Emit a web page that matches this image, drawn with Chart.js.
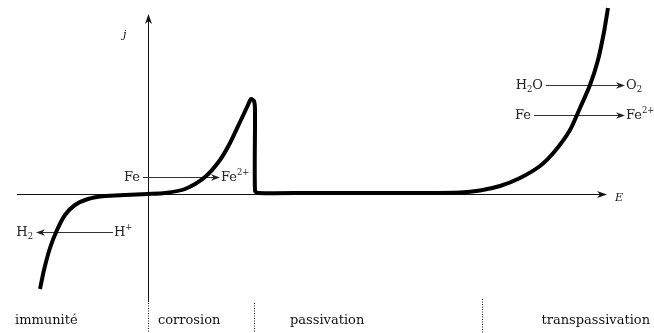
<!DOCTYPE html>
<html><head><meta charset="utf-8">
<script src="https://cdn.jsdelivr.net/npm/chart.js@4/dist/chart.umd.min.js"></script>
<style>html,body{margin:0;padding:0;background:#fff}canvas{display:block}</style>
</head><body>
<canvas id="c" width="654" height="333"></canvas>
<script>
// Potential E (arbitrary units) and current density j (arbitrary units)
const curveE = [-1.08,-1.04,-0.98,-0.91,-0.83,-0.73,-0.60,-0.43,-0.23,0.00,0.17,0.37,0.57,0.72,0.82,0.92,1.00,1.03,1.06,1.07,1.07,1.10,1.60,2.20,2.72,3.12,3.32,3.52,3.72,3.92,4.07,4.22,4.32,4.42,4.50,4.56,4.60];
const curveJ = [-0.95,-0.76,-0.54,-0.36,-0.21,-0.11,-0.05,-0.02,-0.01,0.00,0.01,0.05,0.17,0.34,0.51,0.72,0.89,0.95,0.93,0.84,0.03,0.01,0.01,0.01,0.01,0.015,0.035,0.08,0.16,0.28,0.43,0.64,0.86,1.09,1.34,1.62,1.86];

// Region names and boundaries on E
const regionNames = ['immunité','corrosion','passivation','transpassivation'];
const regionBounds = [0.00, 1.06, 3.34];

// Reaction arrows: [from, to] in E, level in j
const reactionFromE = [-0.05, -0.35, 3.98, 3.86];
const reactionToE   = [ 0.72, -1.12, 4.77, 4.77];
const reactionJ     = [ 0.17, -0.38, 1.09, 0.79];
const reactionFrom  = [[['Fe']], [['H'],['+','sup']], [['H'],['2','sub'],['O']], [['Fe']]];
const reactionTo    = [[['Fe'],['2+','sup']], [['H'],['2','sub']], [['O'],['2','sub']], [['Fe'],['2+','sup']]];

const FONT = '"DejaVu Serif","Liberation Serif",serif';
const FS = 13;

function richWidth(ctx, segs, size){
  let w=0;
  for(const s of segs){ ctx.font = (s[1]? size*0.65 : size)+'px '+FONT; w+=ctx.measureText(s[0]).width; }
  return w;
}
function drawRich(ctx, segs, x, y, size, align){
  let w = richWidth(ctx, segs, size);
  let cx = align==='right' ? x-w : x;
  ctx.textBaseline='middle'; ctx.textAlign='left';
  for(const s of segs){
    const small = !!s[1];
    ctx.font = (small? size*0.65 : size)+'px '+FONT;
    let dy = s[1]==='sup' ? -size*0.33 : (s[1]==='sub' ? size*0.3 : 0);
    ctx.fillText(s[0], cx, y+dy);
    cx += ctx.measureText(s[0]).width;
  }
}
function arrowHead(ctx, x, y, dir, len, half){
  ctx.beginPath();
  ctx.moveTo(x, y);
  ctx.lineTo(x - dir*len, y - half);
  ctx.lineTo(x - dir*len*0.7, y);
  ctx.lineTo(x - dir*len, y + half);
  ctx.closePath(); ctx.fill();
}
function arrowHeadV(ctx, x, y, len, half){
  ctx.beginPath();
  ctx.moveTo(x, y);
  ctx.lineTo(x - half, y + len);
  ctx.lineTo(x, y + len*0.7);
  ctx.lineTo(x + half, y + len);
  ctx.closePath(); ctx.fill();
}

const decor = {
  id:'decor',
  beforeDatasetsDraw(chart){
    const ctx = chart.ctx, xs = chart.scales.x, ys = chart.scales.y;
    const x0 = xs.getPixelForValue(0), y0 = ys.getPixelForValue(0);
    ctx.save();
    ctx.strokeStyle='#111'; ctx.fillStyle='#111'; ctx.lineWidth=1;
    // E axis
    const xl = xs.getPixelForValue(-1.31), xr = xs.getPixelForValue(4.59);
    ctx.beginPath(); ctx.moveTo(xl, y0+0.5); ctx.lineTo(xr-4, y0+0.5); ctx.stroke();
    arrowHead(ctx, xr, y0+0.5, 1, 10, 3.5);
    // j axis
    const yb = ys.getPixelForValue(-1.08), yt = ys.getPixelForValue(1.80);
    ctx.beginPath(); ctx.moveTo(x0+0.5, yb); ctx.lineTo(x0+0.5, yt+4); ctx.stroke();
    arrowHeadV(ctx, x0+0.5, yt, 10, 3.5);
    // axis labels
    ctx.font='italic 11px '+FONT; ctx.textAlign='left'; ctx.textBaseline='middle';
    ctx.fillText('E', xs.getPixelForValue(4.67), ys.getPixelForValue(-0.04));
    ctx.fillText('j', xs.getPixelForValue(-0.25), ys.getPixelForValue(1.59));
    // region separators (dotted)
    ctx.setLineDash([1,1.5]); ctx.lineWidth=1;
    const ybot = chart.height;
    regionBounds.forEach((b,i)=>{
      const px = Math.round(xs.getPixelForValue(b))+0.5;
      const top = ys.getPixelForValue(i===2 ? -1.05 : -1.09);
      ctx.beginPath(); ctx.moveTo(px, top); ctx.lineTo(px, ybot); ctx.stroke();
    });
    ctx.setLineDash([]);
    // region names
    ctx.font=FS+'px '+FONT; ctx.textBaseline='middle';
    const ly = ys.getPixelForValue(-1.265);
    ctx.textAlign='left';
    ctx.fillText(regionNames[0], xs.getPixelForValue(-1.33), ly);
    ctx.fillText(regionNames[1], xs.getPixelForValue(0.10), ly);
    ctx.fillText(regionNames[2], xs.getPixelForValue(1.42), ly);
    ctx.textAlign='right';
    ctx.fillText(regionNames[3], xs.getPixelForValue(5.02), ly);
    // reaction arrows
    ctx.strokeStyle='#333'; ctx.fillStyle='#222'; ctx.lineWidth=1.1;
    for(let i=0;i<reactionJ.length;i++){
      const a = xs.getPixelForValue(reactionFromE[i]), b = xs.getPixelForValue(reactionToE[i]);
      const y = Math.round(ys.getPixelForValue(reactionJ[i]))+0.5;
      const dir = b>a?1:-1;
      ctx.beginPath(); ctx.moveTo(a,y); ctx.lineTo(b-dir*5,y); ctx.stroke();
      arrowHead(ctx, b, y, dir, 9, 3.2);
      ctx.fillStyle='#222';
      if(dir>0){
        drawRich(ctx, reactionFrom[i], a-3, y, FS, 'right');
        drawRich(ctx, reactionTo[i], b+1, y, FS, 'left');
      } else {
        drawRich(ctx, reactionFrom[i], a+1, y, FS, 'left');
        drawRich(ctx, reactionTo[i], b-3, y, FS, 'right');
      }
    }
    ctx.restore();
  }
};

new Chart(document.getElementById('c'), {
  type:'scatter',
  data:{ datasets:[{
    data: curveE.map((e,i)=>({x:e, y:curveJ[i]})),
    showLine:true, borderColor:'#000', borderWidth:4, pointRadius:0,
    tension:0.25, clip:false, borderCapStyle:'butt', borderJoinStyle:'round'
  }]},
  options:{
    responsive:false, animation:false, devicePixelRatio:1,
    layout:{padding:0},
    plugins:{legend:{display:false}, tooltip:{enabled:false}},
    scales:{
      x:{type:'linear', min:-1.48, max:5.06, display:false},
      y:{type:'linear', min:-1.39, max:1.94, display:false}
    }
  },
  plugins:[decor]
});
</script>
</body></html>
